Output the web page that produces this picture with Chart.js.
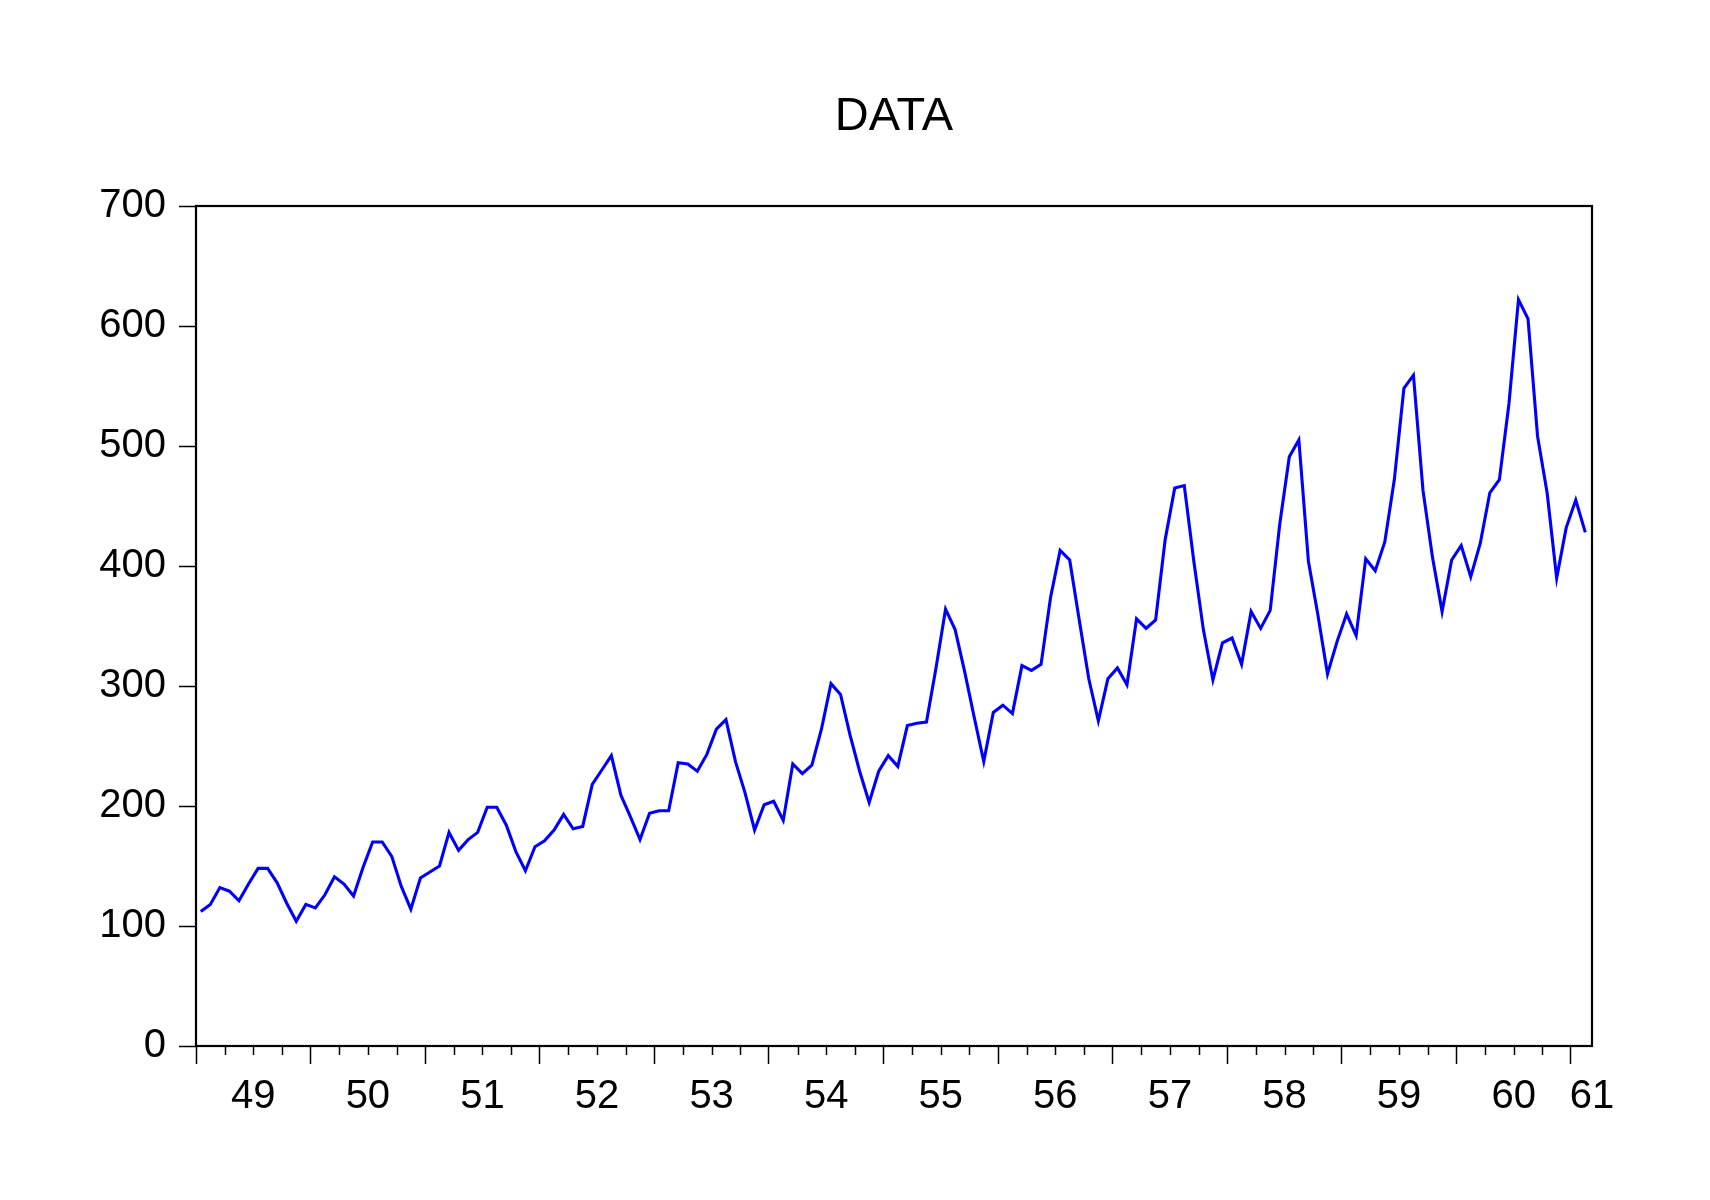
<!DOCTYPE html>
<html>
<head>
<meta charset="utf-8">
<script src="https://cdn.jsdelivr.net/npm/chart.js@4/dist/chart.umd.min.js"></script>
<style>
  html, body { margin: 0; padding: 0; background: #fff; }
  #wrap { width: 1710px; height: 1200px; }
</style>
</head>
<body>
<div id="wrap"><canvas id="chart" width="1710" height="1200"></canvas></div>
<script>
// monthly series, 1949M01 - 1961M02
const y1949 = [112, 118, 132, 129, 121, 135, 148, 148, 136, 119, 104, 118];
const y1950 = [115, 126, 141, 135, 125, 149, 170, 170, 158, 133, 114, 140];
const y1951 = [145, 150, 178, 163, 172, 178, 199, 199, 184, 162, 146, 166];
const y1952 = [171, 180, 193, 181, 183, 218, 230, 242, 209, 191, 172, 194];
const y1953 = [196, 196, 236, 235, 229, 243, 264, 272, 237, 211, 180, 201];
const y1954 = [204, 188, 235, 227, 234, 264, 302, 293, 259, 229, 203, 229];
const y1955 = [242, 233, 267, 269, 270, 315, 364, 347, 312, 274, 237, 278];
const y1956 = [284, 277, 317, 313, 318, 374, 413, 405, 355, 306, 271, 306];
const y1957 = [315, 301, 356, 348, 355, 422, 465, 467, 404, 347, 305, 336];
const y1958 = [340, 318, 362, 348, 363, 435, 491, 505, 404, 359, 310, 337];
const y1959 = [360, 342, 406, 396, 420, 472, 548, 559, 463, 407, 362, 405];
const y1960 = [417, 391, 419, 461, 472, 535, 622, 606, 508, 461, 390, 432];
const y1961 = [455, 428];

const yearLabels = ['49', '50', '51', '52', '53', '54', '55', '56', '57', '58', '59', '60', '61'];
const yTicks = [0, 100, 200, 300, 400, 500, 600, 700];
const titleText = 'DATA';

const series = [].concat(y1949, y1950, y1951, y1952, y1953, y1954, y1955,
  y1956, y1957, y1958, y1959, y1960, y1961);
// x measured in months since 1949M01, point in the middle of its month
const points = series.map((v, i) => ({ x: i + 0.5, y: v }));

const X_MAX = 146.2;
const FONT = '"Liberation Sans", Arial, sans-serif';

// title centred over the plot, box around the plot, short quarter ticks
const framePlugin = {
  id: 'frame',
  afterDraw(chart) {
    const { ctx, chartArea: a, scales } = chart;
    ctx.save();
    ctx.fillStyle = '#000';
    ctx.font = '47px ' + FONT;
    ctx.textAlign = 'center';
    ctx.textBaseline = 'alphabetic';
    ctx.fillText(titleText, (a.left + a.right) / 2, 130);

    ctx.strokeStyle = '#000';
    ctx.lineWidth = 2.2;
    ctx.strokeRect(a.left, a.top, a.right - a.left, a.bottom - a.top);
    ctx.lineWidth = 1.5;
    for (let m = 3; m < X_MAX; m += 3) {
      if (m % 12 === 0) continue;
      const px = Math.round(scales.x.getPixelForValue(m)) + 0.5;
      ctx.beginPath();
      ctx.moveTo(px, a.bottom);
      ctx.lineTo(px, a.bottom + 9);
      ctx.stroke();
    }
    ctx.restore();
  }
};

new Chart(document.getElementById('chart'), {
  type: 'line',
  data: {
    datasets: [{
      label: titleText,
      data: points,
      borderColor: '#0000ff',
      borderWidth: 3.1,
      pointRadius: 0,
      tension: 0,
      fill: false
    }]
  },
  options: {
    responsive: false,
    animation: false,
    layout: { padding: { left: 0, right: 118, top: 206, bottom: 0 } },
    plugins: {
      legend: { display: false },
      tooltip: { enabled: false },
      title: { display: false }
    },
    scales: {
      x: {
        type: 'linear',
        min: 0,
        max: X_MAX,
        border: { display: false },
        grid: {
          drawOnChartArea: false,
          drawTicks: true,
          tickLength: 18,
          tickWidth: 1.5,
          tickColor: (c) => (c.tick && c.tick.value % 12 === 0 && c.tick.value < X_MAX) ? '#000' : 'rgba(0,0,0,0)'
        },
        afterBuildTicks(scale) {
          const t = [];
          for (let m = 0; m <= 144; m += 3) t.push({ value: m });
          t.push({ value: X_MAX });
          scale.ticks = t;
        },
        afterFit(scale) { scale.height = 154; },
        ticks: {
          autoSkip: false,
          maxRotation: 0,
          padding: 9,
          color: '#000',
          font: { family: FONT, size: 40 },
          callback: (v) => {
            if (v === X_MAX) return yearLabels[12];
            if (v % 12 === 6) return yearLabels[(v - 6) / 12];
            return '';
          }
        }
      },
      y: {
        min: 0,
        max: 700,
        border: { display: false },
        grid: {
          drawOnChartArea: false,
          drawTicks: true,
          tickLength: 17,
          tickWidth: 1.5,
          tickColor: '#000'
        },
        afterBuildTicks(scale) {
          scale.ticks = yTicks.map(v => ({ value: v }));
        },
        afterFit(scale) { scale.width = 196; },
        ticks: {
          padding: 13,
          color: '#000',
          font: { family: FONT, size: 40 }
        }
      }
    }
  },
  plugins: [framePlugin]
});
</script>
</body>
</html>
